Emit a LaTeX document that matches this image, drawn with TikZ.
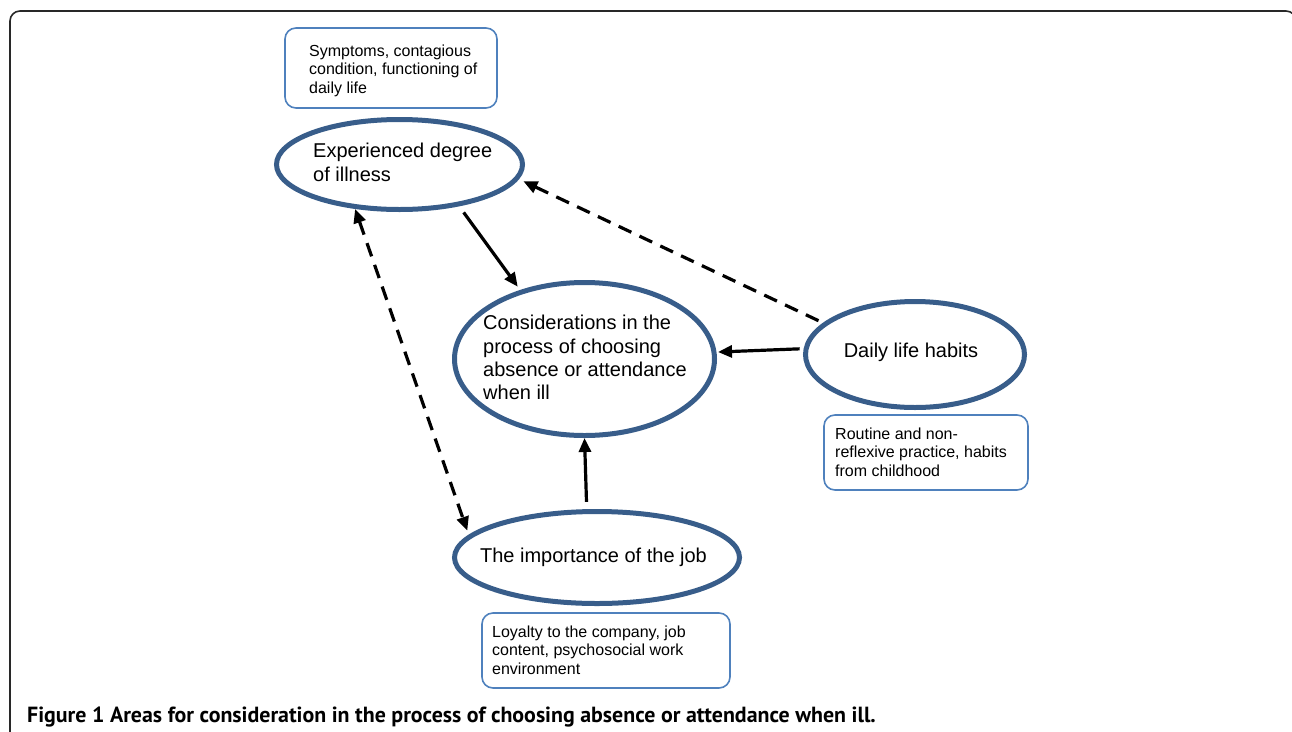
\documentclass[tikz,border=0pt]{standalone}
\usepackage{fontspec}
\setmainfont{Liberation Sans}
\newfontfamily\capfont{PT Sans}
\usetikzlibrary{shapes.geometric,arrows.meta}
\definecolor{ellc}{RGB}{56,93,138}
\definecolor{boxc}{RGB}{79,129,189}
\definecolor{framec}{RGB}{40,40,40}
\begin{document}
\begin{tikzpicture}[x=1pt,y=-1pt,
  ell/.style={ellipse, draw=ellc, line width=5pt, inner sep=0pt},
  infobox/.style={rectangle, rounded corners=11pt, draw=boxc, line width=1.6pt, inner sep=0pt},
  etext/.style={align=left, font=\fontsize{20}{23.4}\selectfont, inner sep=0pt},
  btext/.style={align=left, font=\fontsize{16}{18.5}\selectfont, inner sep=0pt, anchor=west},
  conn/.style={line width=3.2pt, -{Triangle[length=14pt,width=12pt]}},
  dconn/.style={conn, dash pattern=on 14pt off 9pt},
  capstyle/.style={anchor=base west, inner sep=0pt, font=\capfont\bfseries\fontsize{21.9}{26}\selectfont}
]
\useasboundingbox (0,0) rectangle (1292,731);
\draw[framec, line width=1.6pt, rounded corners=10pt] (10,740) -- (10,11) -- (1296,11) -- (1296,740);

% ellipses
\node[ell, minimum width=246pt, minimum height=90pt] (exp) at (399.5,164.5) {};
\node[etext, anchor=west] (expt) at (313,162.5) {Experienced degree\\of illness};
\node[ell, minimum width=260pt, minimum height=153pt] (cons) at (584.5,359) {};
\node[etext, anchor=west] (const) at (483,357.7) {Considerations in the\\process of choosing\\absence or attendance\\when ill};
\node[ell, minimum width=219pt, minimum height=106pt] (daily) at (915,354.5) {};
\node[etext] (dailyt) at (911,352.8) {Daily life habits};
\node[ell, minimum width=285pt, minimum height=92pt] (imp) at (597,557.5) {};
\node[etext] (impt) at (593.5,556.9) {The importance of the job};

% info boxes
\node[infobox, minimum width=212pt, minimum height=80pt] (sym) at (391,68) {};
\node[btext] (symt) at (309,70.8) {Symptoms, contagious\\condition, functioning of\\daily life};
\node[infobox, minimum width=204pt, minimum height=75pt] (rout) at (926,452.5) {};
\node[btext] (routt) at (835,451.9) {Routine and non-\\reflexive practice, habits\\from childhood};
\node[infobox, minimum width=248pt, minimum height=75pt] (loy) at (606,650.5) {};
\node[btext] (loyt) at (492,649.9) {Loyalty to the company, job\\content, psychosocial work\\environment};

% connectors
\draw[conn, shorten <=7.6pt, shorten >=4pt] (exp.-35.8) -- (cons.133.2);
\draw[conn, shorten <=4pt, shorten >=1.5pt] (daily.177.8) -- (cons.3.86);
\draw[conn, shorten <=7.3pt] (imp.102.2) -- (cons.south);
\draw[dconn, shorten <=5pt, shorten >=5pt] (daily.161.6) -- (exp.-7.6);
\draw[dconn, {Triangle[length=14pt,width=12pt]}-{Triangle[length=14pt,width=12pt]}, shorten >=4.4pt] (exp.-135) -- (imp.170.5);

% caption
\node[capstyle] (cap) at (27,722) {Figure 1 Areas for consideration in the process of choosing absence or attendance when ill.};
\end{tikzpicture}
\end{document}
